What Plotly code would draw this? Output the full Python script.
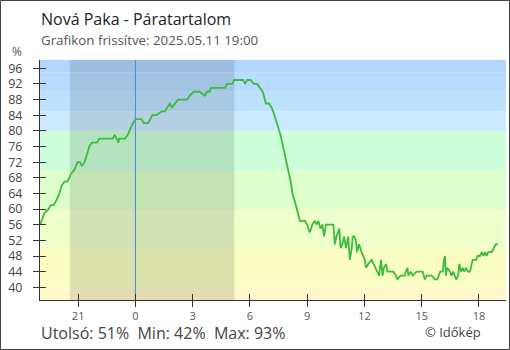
import plotly.graph_objects as go
from datetime import datetime, timedelta

# ---- data -------------------------------------------------------------
clock = [
    "19:00", "19:05", "19:14", "19:27", "19:34", "19:43", "19:50", "20:01", "20:08", "20:17",
    "20:27", "20:37", "20:48", "20:58", "21:06", "21:12", "21:20", "21:28", "21:35", "21:43",
    "21:59", "22:07", "22:49", "22:54", "23:01", "23:07", "23:09", "23:27", "23:36", "23:42",
    "23:46", "23:52",
    "00:01", "00:19", "00:26", "00:40", "00:47", "00:53", "01:06", "01:22", "01:32", "01:39",
    "01:48", "01:55", "02:04", "02:14", "02:19", "02:42", "02:51", "03:03", "03:22", "03:38",
    "03:45", "03:54", "03:57", "04:41", "04:48", "05:05", "05:10", "05:39", "05:45", "05:51",
    "06:02", "06:12", "06:23", "06:31", "06:40", "06:44", "06:50", "07:00", "07:08", "07:13",
    "07:21", "07:29", "07:36", "07:44", "07:53", "08:00", "08:08", "08:14", "08:21", "08:28",
    "08:37", "08:53", "09:00", "09:08", "09:16", "09:24", "09:29", "09:35", "09:42", "09:48",
    "09:53", "09:59", "10:03", "10:22", "10:27", "10:32", "10:37", "10:41", "10:45", "10:51",
    "10:56", "11:02", "11:09", "11:14", "11:20", "11:23", "11:28", "11:33", "11:37", "11:43",
    "11:51", "12:01", "12:05", "12:12", "12:23", "12:33", "12:40", "12:46", "12:52", "12:57",
    "13:01", "13:08", "13:12", "13:20", "13:31", "13:39", "13:43", "13:54", "14:02", "14:07",
    "14:10", "14:15", "14:18", "14:25", "14:32", "14:44", "15:03", "15:10", "15:16", "15:31",
    "15:42", "15:49", "15:58", "16:06", "16:10", "16:13", "16:16", "16:20", "16:29", "16:34",
    "16:39", "16:48", "16:55", "16:58", "17:04", "17:09", "17:14", "17:19", "17:25", "17:32",
    "17:40", "17:51", "17:55", "18:03", "18:09", "18:14", "18:19", "18:24", "18:29", "18:40",
    "18:53", "19:00",
]
humidity = [
    56, 57, 59, 60, 61, 61, 62, 64, 66, 67,
    67, 69, 70, 72, 72, 71, 72, 74, 76, 77,
    77, 78, 78, 79, 78, 77, 78, 78, 79, 80,
    81, 82,
    83, 83, 82, 82, 83, 84, 84, 85, 85, 86,
    87, 86, 87, 88, 88, 88, 89, 90, 90, 89,
    90, 90, 91, 91, 92, 92, 93, 93, 92, 93,
    93, 92, 92, 91, 90, 89, 87, 87, 86, 85,
    83, 81, 79, 76, 73, 70, 67, 64, 62, 60,
    57, 57, 56, 54, 56, 57, 56, 57, 55, 56,
    53, 56, 56, 56, 51, 53, 54, 55, 50, 51,
    53, 50, 53, 47, 50, 53, 53, 52, 49, 51,
    49, 47, 45, 46, 47, 45, 44, 43, 47, 43,
    45, 46, 44, 44, 44, 43, 42, 43, 43, 43,
    44, 45, 43, 44, 43, 44, 44, 42, 43, 43,
    42, 42, 44, 44, 47, 48, 43, 45, 44, 43,
    44, 42, 43, 46, 44, 45, 44, 45, 44, 44,
    47, 47, 48, 48, 49, 48, 49, 48, 49, 49,
    51, 51,
]
start_date = "2025-05-10"
night_start = "2025-05-10 20:34"
night_end = "2025-05-11 05:11"
midnight = "2025-05-11 00:00"
x_range = ["2025-05-10 19:00", "2025-05-11 19:25"]
y_range = [36.75, 98.12]
y_ticks = list(range(40, 97, 4))
band_lo = [0, 40, 50, 60, 70, 80, 85, 90, 95]
band_hi = [40, 50, 60, 70, 80, 85, 90, 95, 100]
band_colors = ["#fff8cc", "#f9fdc2", "#eeffcc", "#ddffcc", "#ccffd9",
               "#cceaff", "#bde2ff", "#b8dbff", "#b2d6fe"]

title = "Nová Paka - Páratartalom"
subtitle = "Grafikon frissítve: 2025.05.11 19:00"
footer = "Utolsó: 51%  Min: 42%  Max: 93%"
credit = "© Időkép"

# ---- build timestamps --------------------------------------------------
day = datetime.strptime(start_date, "%Y-%m-%d")
times = []
prev = None
for c in clock:
    h, m = map(int, c.split(":"))
    if prev is not None and h < prev:
        day += timedelta(days=1)
    prev = h
    times.append(day + timedelta(hours=h, minutes=m))

W, H = 510, 350
ML, MR, MT, MB = 40, 4, 60, 50
PW, PH = W - ML - MR, H - MT - MB


def px(xp):
    return (xp - ML) / PW


def py(yp):
    return (H - MB - yp) / PH


fig = go.Figure()
fig.add_trace(go.Scatter(x=times, y=humidity, mode="lines",
                         line=dict(color="#3cbb3c", width=1.8),
                         hoverinfo="skip", showlegend=False))
fig.add_trace(go.Scatter(x=[], y=[], xaxis="x2", yaxis="y2",
                         showlegend=False, hoverinfo="skip"))

for lo, hi, col in zip(band_lo, band_hi, band_colors):
    fig.add_shape(type="rect", xref="paper", yref="y", x0=0, x1=1,
                  y0=max(lo, y_range[0]), y1=min(hi, y_range[1]),
                  fillcolor=col, line_width=0, layer="below")
fig.add_shape(type="rect", xref="x", yref="paper", x0=night_start, x1=night_end,
              y0=0, y1=1, fillcolor="rgba(0,0,0,0.11)", line_width=0, layer="below")
fig.add_shape(type="line", xref="x", yref="paper", x0=midnight, x1=midnight,
              y0=0, y1=1, line=dict(color="#3b8fd4", width=1), layer="below")
# outer frame
fig.add_shape(type="rect", xref="paper", yref="paper",
              x0=px(0.5), x1=px(W - 0.5), y0=py(H - 0.5), y1=py(0.5),
              line=dict(color="#444", width=1), fillcolor="rgba(0,0,0,0)")

axis_common = dict(showgrid=False, zeroline=False, tickcolor="#333", tickwidth=1, ticklen=6,
                   fixedrange=True, automargin=False)
fig.update_layout(
    width=W, height=H,
    margin=dict(l=ML, r=MR, t=MT, b=MB, pad=0, autoexpand=False),
    paper_bgcolor="white", plot_bgcolor="white",
    font=dict(family="Open Sans, Noto Sans, sans-serif", color="#444"),
    xaxis=dict(type="date", range=x_range, dtick=3 * 3600000, tick0=midnight,
               tickformat="%-H", ticks="outside", showline=True, linecolor="#333",
               linewidth=1, tickfont=dict(size=11, color="#555"), **axis_common),
    yaxis=dict(range=y_range, tickvals=y_ticks, ticks="outside", showline=True,
               linecolor="#333", linewidth=1, tickfont=dict(size=12.5, color="#444"),
               ticklabelstandoff=8, **axis_common),
    xaxis2=dict(type="date", range=x_range, dtick=3 * 3600000, tick0=midnight,
                overlaying="x", anchor="y", side="bottom", ticks="inside",
                showticklabels=False, showline=False, **axis_common),
    yaxis2=dict(range=y_range, tickvals=y_ticks, overlaying="y", anchor="x", side="left",
                ticks="inside", showticklabels=False, showline=False, **axis_common),
    annotations=[
        dict(text=title, xref="paper", yref="paper", x=px(39), y=py(18.5),
             xanchor="left", yanchor="middle", showarrow=False,
             font=dict(size=16, color="#222")),
        dict(text=subtitle, xref="paper", yref="paper", x=px(39), y=py(40.5),
             xanchor="left", yanchor="middle", showarrow=False,
             font=dict(size=13.3, color="#555")),
        dict(text="%", xref="paper", yref="paper", x=px(17), y=py(51.5),
             xanchor="center", yanchor="middle", showarrow=False,
             font=dict(size=12, color="#555")),
        dict(text=footer, xref="paper", yref="paper", x=px(39), y=py(333),
             xanchor="left", yanchor="middle", showarrow=False,
             font=dict(size=16, color="#444")),
        dict(text=credit, xref="paper", yref="paper", x=px(483), y=py(332),
             xanchor="right", yanchor="middle", showarrow=False,
             font=dict(size=13, color="#444")),
    ],
)

fig.write_html("out.html", config={"displayModeBar": False},
               post_script="document.body.style.margin='0';document.body.style.padding='0';")
